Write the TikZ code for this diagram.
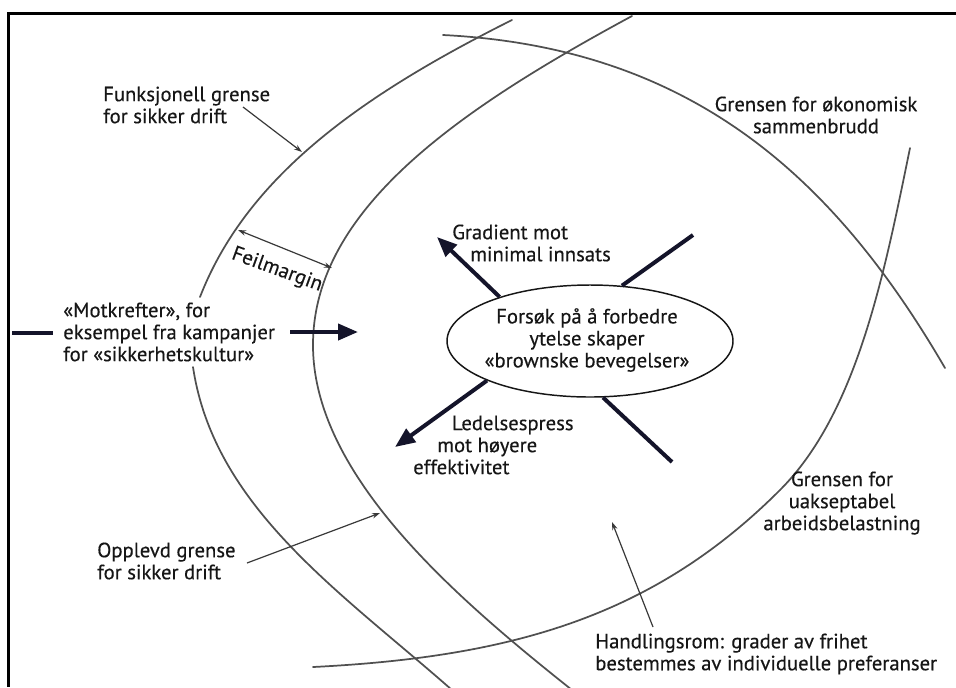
\documentclass[tikz,border=0pt]{standalone}
\usepackage{fontspec}
\setmainfont{PT Sans}[FakeBold=0.3]
\usetikzlibrary{arrows.meta,shapes.geometric}

\definecolor{ink}{HTML}{161616}
\definecolor{curvegray}{HTML}{505050}
\definecolor{heavy}{HTML}{14142A}

\begin{document}
\begin{tikzpicture}[x=0.75pt,y=-0.75pt,
  lbl/.style={font=\fontsize{15.5}{16.5}\selectfont, text=ink, inner sep=0pt},
  boundary/.style={draw=curvegray, line width=1.3pt, line cap=round},
  force/.style={draw=heavy, line width=3pt},
  forcearrow/.style={force, -{Triangle[length=15pt,width=12pt]}},
  leader/.style={draw=ink!85, line width=0.9pt, -{Stealth[length=6pt,width=4pt]}},
  twoway/.style={draw=ink!85, line width=0.9pt, {Stealth[length=6pt,width=4pt]}-{Stealth[length=6pt,width=4pt]}},
]
\useasboundingbox (0,0) rectangle (956,687);
\fill[white] (0,0) rectangle (956,687);

% frame (top and left edges)
\draw[line width=2pt] (956,13.7) -- (8.7,13.7) -- (8.7,687);

% boundaries
\begin{scope}
  \clip (10,15) rectangle (956,687);
  % functional boundary for safe operation (broken around the text)
  \draw[boundary] (512,20) .. controls (362,95) and (247,176) .. (200,297);
  \draw[boundary] (193,367) .. controls (214,507) and (339.5,591) .. (452,690);
  % perceived boundary
  \draw[boundary] (632,16) .. controls (457,110.5) and (313,210) .. (313,345)
                           .. controls (313,475) and (455,597) .. (572,690);
  % economic failure boundary
  \draw[boundary] (443,35) .. controls (693,47.5) and (835,179) .. (945,368);
  % unacceptable workload boundary
  \draw[boundary] (313,667) .. controls (513,657) and (654,616) .. (780,490)
                            .. controls (857,413) and (884,275) .. (910,148);
\end{scope}

% central ellipse
\node[ellipse, draw=ink, line width=1.1pt, minimum width=286*0.75pt, minimum height=112*0.75pt, inner sep=0pt]
  (ell) at (590,341) {};
\node[lbl, align=center] (elltext) at (587,340) {Forsøk på å forbedre\\ytelse skaper\\«brownske bevegelser»};

% forces around the ellipse
\coordinate (gradtip) at (437,237);
\coordinate (urend) at (693,235);
\coordinate (presstip) at (395,447);
\coordinate (lrend) at (672,462);
\draw[forcearrow] (ell.154.5) -- (gradtip);
\draw[force] (ell.60) -- (urend);
\draw[forcearrow] (ell.201.7) -- (presstip);
\draw[force] (ell.283) -- (lrend);

\node[lbl, align=left, anchor=west] (grad) at (452,243) {Gradient mot\\\hspace*{13.5pt}minimal innsats};
\node[lbl, align=left, anchor=west] (press) at (413,445) {\hspace*{29pt}Ledelsespress\\\hspace*{18pt}mot høyere\\effektivitet};

% countervailing forces
\node[lbl, align=left, anchor=west] (mot) at (63,332) {«Motkrefter», for\\eksempel fra kampanjer\\for «sikkerhetskultur»};
\coordinate (motin) at (12,333);
\coordinate (motinend) at (53,333);
\coordinate (motout) at (290,332);
\coordinate (mottip) at (358,332);
\draw[force] (motin) -- (motinend);
\draw[forcearrow] (motout) -- (mottip);

% error margin
\coordinate (fmA) at (238,230);
\coordinate (fmB) at (332,268);
\draw[twoway] (fmA) -- (fmB);
\node[lbl, rotate=-20] (feil) at (277,270) {Feilmargin};

% boundary labels
\node[lbl, align=left, anchor=west] (funk) at (103,105) {Funksjonell grense\\for sikker drift};
\coordinate (funkfrom) at (243,107);
\coordinate (funkto) at (302,152);
\draw[leader] (funkfrom) -- (funkto);

\node[lbl, align=left, anchor=west] (oppl) at (97,561) {Opplevd grense\\for sikker drift};
\coordinate (opplfrom) at (247,563);
\coordinate (opplto) at (380,513);
\draw[leader] (opplfrom) -- (opplto);

\node[lbl, align=center] (okon) at (816,115) {Grensen for økonomisk\\sammenbrudd};
\node[lbl, align=center] (uaks) at (842,503) {Grensen for\\uakseptabel\\arbeidsbelastning};

\node[lbl, align=left, anchor=west] (hand) at (595,654) {Handlingsrom: grader av frihet\\bestemmes av individuelle preferanser};
\coordinate (handfrom) at (653,627);
\coordinate (handto) at (612,522);
\draw[leader] (handfrom) -- (handto);
\end{tikzpicture}
\end{document}
